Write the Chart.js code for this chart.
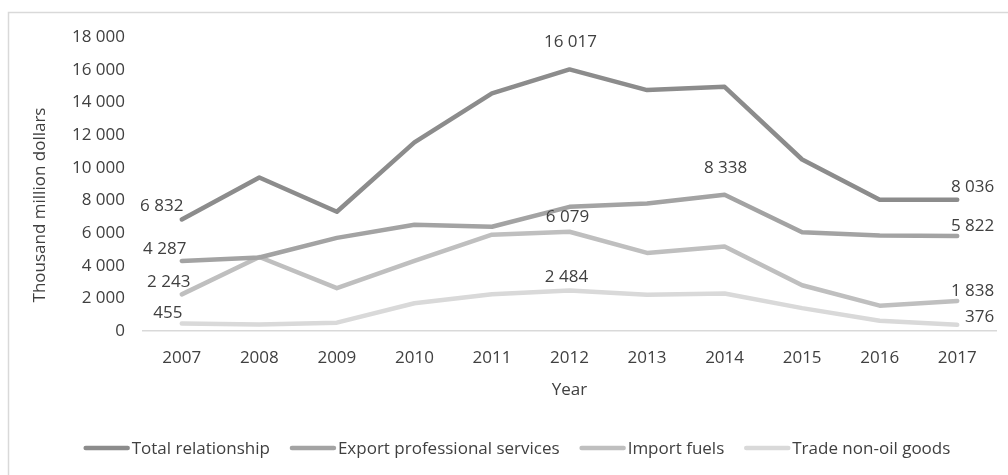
<!DOCTYPE html>
<html>
<head>
<meta charset="utf-8">
<script src="https://cdn.jsdelivr.net/npm/chart.js@4/dist/chart.umd.min.js"></script>
<style>
  html, body { margin: 0; padding: 0; background: #ffffff; }
  #wrap { width: 1008px; height: 475px; position: relative; }
</style>
</head>
<body>
<div id="wrap"><canvas id="chart" width="1008" height="475"></canvas></div>
<script>
// Years on the horizontal axis
const years = ['2007', '2008', '2009', '2010', '2011', '2012', '2013', '2014', '2015', '2016', '2017'];

// Series, thousand million dollars
const totalRelationship = [6832, 9400, 7300, 11550, 14550, 16017, 14750, 14950, 10500, 8030, 8036];
const exportProfServices = [4287, 4500, 5700, 6500, 6380, 7600, 7800, 8338, 6050, 5850, 5822];
const importFuels = [2243, 4530, 2620, 4300, 5900, 6079, 4780, 5180, 2800, 1550, 1838];
const tradeNonOilGoods = [455, 400, 510, 1700, 2250, 2484, 2220, 2300, 1400, 630, 376];

const seriesNames = ['Total relationship', 'Export professional services', 'Import fuels', 'Trade non-oil goods'];

// Value axis ticks
const yTicks = [0, 2000, 4000, 6000, 8000, 10000, 12000, 14000, 16000, 18000];
const yTitle = 'Thousand million dollars';

// Indices of the points that carry a value label, per series
const labelledPoints = [[0, 5, 10], [0, 7, 10], [0, 5, 10], [0, 5, 10]];

// Label placement relative to its point: [dx, dy, align]
const labelOffsets = [
  [[-20, -13, 'center'], [1, -27, 'center'], [37, -13, 'right']],
  [[-17, -12, 'center'], [1, -27, 'center'], [37, -10, 'right']],
  [[-13, -12, 'center'], [-2, -15, 'center'], [37, -10, 'right']],
  [[-14, -10, 'center'], [-3, -13, 'center'], [37, -8, 'right']]
];

const lineColors = ['#8c8c8c', '#a3a3a3', '#bfbfbf', '#d9d9d9'];
const textColor = '#404040';
const fontFamily = '"Open Sans", "DejaVu Sans", sans-serif';
const fontSize = 17;

function fmt(v) {
  return String(Math.round(v)).replace(/\B(?=(\d{3})+(?!\d))/g, ' ');
}

// Light frame around the whole figure
const framePlugin = {
  id: 'frame',
  beforeDraw(chart) {
    const ctx = chart.ctx;
    ctx.save();
    ctx.fillStyle = '#ffffff';
    ctx.fillRect(0, 0, chart.width, chart.height);
    ctx.strokeStyle = '#d9d9d9';
    ctx.lineWidth = 1.5;
    ctx.strokeRect(8.5, 12.5, chart.width + 20, chart.height + 20);
    ctx.restore();
  }
};

// Rotated value-axis title
const yTitlePlugin = {
  id: 'yTitle',
  afterDraw(chart) {
    const ctx = chart.ctx;
    ctx.save();
    ctx.font = fontSize + 'px ' + fontFamily;
    ctx.fillStyle = textColor;
    ctx.textAlign = 'center';
    ctx.textBaseline = 'middle';
    ctx.translate(40, 205);
    ctx.rotate(-Math.PI / 2);
    ctx.fillText(yTitle, 0, 0);
    ctx.restore();
  }
};

// Value labels on selected points
const valueLabelPlugin = {
  id: 'valueLabels',
  afterDatasetsDraw(chart) {
    const ctx = chart.ctx;
    ctx.save();
    ctx.font = fontSize + 'px ' + fontFamily;
    ctx.fillStyle = textColor;
    ctx.textBaseline = 'middle';
    chart.data.datasets.forEach((ds, di) => {
      const meta = chart.getDatasetMeta(di);
      labelledPoints[di].forEach((idx, k) => {
        const pt = meta.data[idx];
        const [dx, dy, align] = labelOffsets[di][k];
        ctx.textAlign = align;
        ctx.fillText(fmt(ds.data[idx]), pt.x + dx, pt.y + dy);
      });
    });
    ctx.restore();
  }
};

// Legend drawn as line samples followed by the series name
const lineLegendPlugin = {
  id: 'lineLegend',
  afterDraw(chart) {
    const ctx = chart.ctx;
    const sample = 46, gapText = 2, gapItem = 20, y = 448;
    ctx.save();
    ctx.font = fontSize + 'px ' + fontFamily;
    ctx.textBaseline = 'middle';
    ctx.textAlign = 'left';
    const items = chart.data.datasets.map(ds => ({
      ds, w: sample + gapText + ctx.measureText(ds.label).width
    }));
    const total = items.reduce((s, it) => s + it.w, 0) + gapItem * (items.length - 1);
    let x = 517 - total / 2;
    items.forEach(it => {
      ctx.strokeStyle = it.ds.borderColor;
      ctx.lineWidth = 4.5;
      ctx.lineCap = 'round';
      ctx.beginPath();
      ctx.moveTo(x + 2, y);
      ctx.lineTo(x + sample - 2, y);
      ctx.stroke();
      ctx.fillStyle = textColor;
      ctx.fillText(it.ds.label, x + sample + gapText, y + 1);
      x += it.w + gapItem;
    });
    ctx.restore();
  }
};

const seriesData = [totalRelationship, exportProfServices, importFuels, tradeNonOilGoods];

new Chart(document.getElementById('chart'), {
  type: 'line',
  data: {
    labels: years,
    datasets: seriesData.map((d, i) => ({
      label: seriesNames[i],
      data: d,
      borderColor: lineColors[i],
      backgroundColor: lineColors[i],
      borderWidth: 4.5,
      pointRadius: 0,
      tension: 0,
      fill: false,
      borderJoinStyle: 'round',
      borderCapStyle: 'round'
    }))
  },
  options: {
    responsive: false,
    animation: false,
    devicePixelRatio: 1,
    layout: { padding: { top: 37, left: 0, right: 12, bottom: 0 } },
    plugins: {
      legend: { display: false },
      tooltip: { enabled: false }
    },
    scales: {
      x: {
        type: 'category',
        offset: true,
        grid: { display: false, drawTicks: false },
        border: { display: true, color: '#d9d9d9', width: 1.5 },
        ticks: {
          color: textColor,
          font: { family: fontFamily, size: fontSize },
          padding: 17,
          maxRotation: 0
        },
        title: {
          display: true,
          text: 'Year',
          color: textColor,
          font: { family: fontFamily, size: fontSize },
          padding: { top: 4, bottom: 75 }
        },
        afterFit(scale) { scale.height = 144; }
      },
      y: {
        min: 0,
        max: 18000,
        grid: { display: false, drawTicks: false },
        border: { display: false },
        afterBuildTicks(scale) { scale.ticks = yTicks.map(v => ({ value: v })); },
        ticks: {
          color: textColor,
          font: { family: fontFamily, size: fontSize },
          padding: 18,
          callback: v => fmt(v)
        },
        afterFit(scale) { scale.width = 143; }
      }
    }
  },
  plugins: [framePlugin, yTitlePlugin, valueLabelPlugin, lineLegendPlugin]
});
</script>
</body>
</html>
